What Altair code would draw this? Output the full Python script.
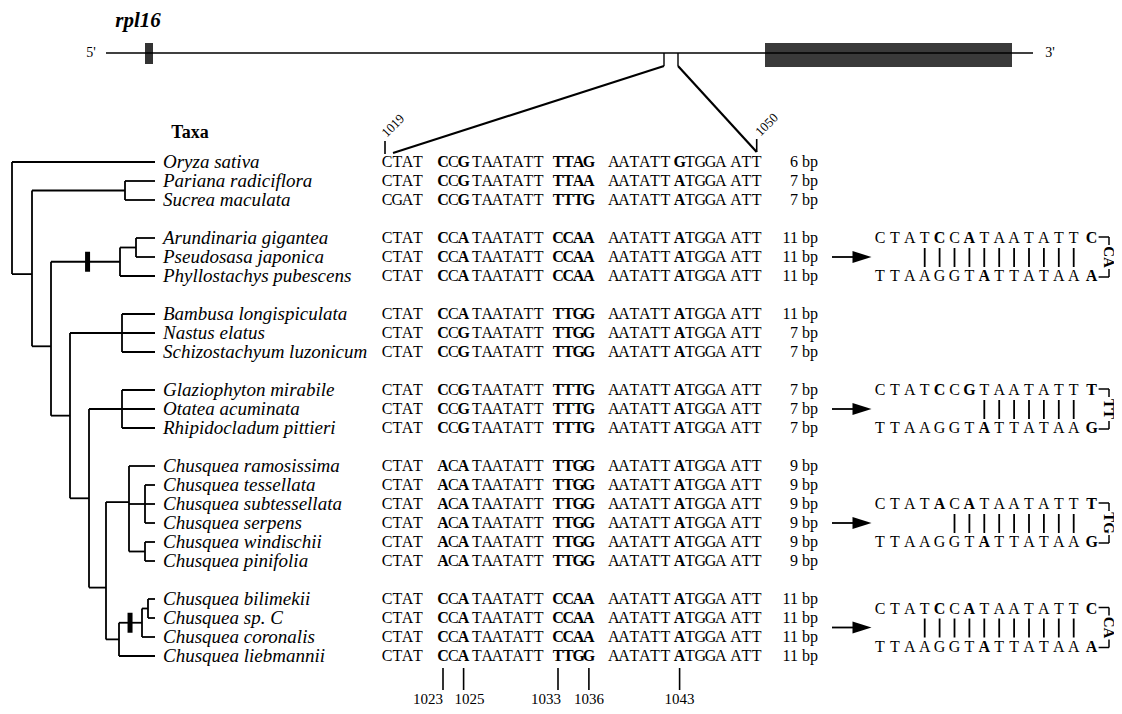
import altair as alt
import pandas as pd

# ---------------- data ----------------
taxa = ["Oryza sativa", "Pariana radiciflora", "Sucrea maculata",
        "Arundinaria gigantea", "Pseudosasa japonica", "Phyllostachys pubescens",
        "Bambusa longispiculata", "Nastus elatus", "Schizostachyum luzonicum",
        "Glaziophyton mirabile", "Otatea acuminata", "Rhipidocladum pittieri",
        "Chusquea ramosissima", "Chusquea tessellata", "Chusquea subtessellata",
        "Chusquea serpens", "Chusquea windischii", "Chusquea pinifolia",
        "Chusquea bilimekii", "Chusquea sp. C", "Chusquea coronalis", "Chusquea liebmannii"]
group_sizes = [3, 3, 3, 3, 6, 4]
sequences = [
    "CTATCCGTAATATTTTAGAATATTGTGGAATT",
    "CTATCCGTAATATTTTAAAATATTATGGAATT",
    "CGATCCGTAATATTTTTGAATATTATGGAATT",
    "CTATCCATAATATTCCAAAATATTATGGAATT",
    "CTATCCATAATATTCCAAAATATTATGGAATT",
    "CTATCCATAATATTCCAAAATATTATGGAATT",
    "CTATCCATAATATTTTGGAATATTATGGAATT",
    "CTATCCGTAATATTTTGGAATATTATGGAATT",
    "CTATCCGTAATATTTTGGAATATTATGGAATT",
    "CTATCCGTAATATTTTTGAATATTATGGAATT",
    "CTATCCGTAATATTTTTGAATATTATGGAATT",
    "CTATCCGTAATATTTTTGAATATTATGGAATT",
    "CTATACATAATATTTTGGAATATTATGGAATT",
    "CTATACATAATATTTTGGAATATTATGGAATT",
    "CTATACATAATATTTTGGAATATTATGGAATT",
    "CTATACATAATATTTTGGAATATTATGGAATT",
    "CTATACATAATATTTTGGAATATTATGGAATT",
    "CTATACATAATATTTTGGAATATTATGGAATT",
    "CTATCCATAATATTCCAAAATATTATGGAATT",
    "CTATCCATAATATTCCAAAATATTATGGAATT",
    "CTATCCATAATATTCCAAAATATTATGGAATT",
    "CTATCCATAATATTTTGGAATATTATGGAATT",
]
bp_lengths = [6, 7, 7, 11, 11, 11, 11, 7, 7, 7, 7, 7, 9, 9, 9, 9, 9, 9, 11, 11, 11, 11]
first_position = 1019
last_position = 1050
bold_positions = [1023, 1025, 1033, 1034, 1035, 1036, 1043]
marked_positions = [1023, 1025, 1033, 1036, 1043]

# tree: (node, depth, children, stem-row override)
tree = ("root", 12, [
    "Oryza sativa",
    ("B", 32, [
        ("PS", 125, ["Pariana radiciflora", "Sucrea maculata"], None),
        ("C", 51, [
            ("AR", 120, [("AP", 136, ["Arundinaria gigantea", "Pseudosasa japonica"], None),
                         "Phyllostachys pubescens"], None),
            ("D", 70, [
                ("BA", 122, ["Bambusa longispiculata", "Nastus elatus", "Schizostachyum luzonicum"], None),
                ("E", 89, [
                    ("GL", 122, ["Glaziophyton mirabile", "Otatea acuminata", "Rhipidocladum pittieri"], None),
                    ("F", 106, [
                        ("G", 129, ["Chusquea ramosissima",
                                    ("H", 145, ["Chusquea tessellata", "Chusquea subtessellata", "Chusquea serpens"], None),
                                    ("W", 145, ["Chusquea windischii", "Chusquea pinifolia"], None)], 17.9),
                        ("I", 119, [("J", 142, [("K", 148, ["Chusquea bilimekii", "Chusquea sp. C"], None),
                                               "Chusquea coronalis"], None),
                                    "Chusquea liebmannii"], None)], 22.4),
                ], None),
            ], None),
        ], 9.7),
    ], 5.9),
], None)
marked_branches = {"AR": 0.53, "J": 0.48}   # branch carrying the black bar: relative place

hairpin_top = ["CTATCCATAATATTC", "CTATCCGTAATATTT", "CTATACATAATATTT", "CTATCCATAATATTC"]
hairpin_bottom = ["TTAAGGTATTATAAA", "TTAAGGTATTATAAG", "TTAAGGTATTATAAG", "TTAAGGTATTATAAA"]
hairpin_loop = ["CA", "TT", "TG", "CA"]
hairpin_pairs = [11, 7, 9, 11]
hairpin_top_bold = [4, 6, 14]
hairpin_bottom_bold = [7, 14]
hairpin_rows = [5, 13, 19, 24.5]

# ---------------- layout ----------------
SERIF = "Liberation Serif"
ROW0, ROW_H = 162, 19
LEAF_X = 155
SEQ_X0, SEQ_PITCH = 387, 10.3
SEQ_GAPS = {4: 14.8, 7: 3.0, 14: 9.0, 18: 14.6, 24: 4.0, 29: 5.0}
HP_X0, HP_PITCH = 880, 14.9
LOOP_X = 1109


def row_y(k):
    return ROW0 + ROW_H * k


def col_x(j):
    return SEQ_X0 + SEQ_PITCH * j + sum(g for k, g in SEQ_GAPS.items() if j >= k)


taxon_row = {}
k = 0
i = 0
for g in group_sizes:
    for _ in range(g):
        taxon_row[taxa[i]] = k
        i += 1
        k += 1
    k += 1

rules, rects, texts_n, texts_b, texts_i, texts_bi, texts_r, texts_l = [], [], [], [], [], [], [], []


def rule(x, y, x2, y2, w=1.6):
    rules.append(dict(x=x, y=y, x2=x2, y2=y2, w=w))


def txt(lst, x, y, t, fs, ang=0):
    lst.append(dict(x=x, y=y, t=t, fs=fs, ang=ang))


# ---- tree ----
node_pos = {}
node_parent_x = {}


def layout(node, parent_depth=None):
    if isinstance(node, str):
        return LEAF_X, row_y(taxon_row[node])
    name, depth, children, override = node
    cpos = [layout(c, depth) for c in children]
    ys = [p[1] for p in cpos]
    rule(depth, min(ys), depth, max(ys), 1.8)
    for (cx, cy) in cpos:
        rule(depth, cy, cx, cy, 1.8)
    y = row_y(override) if override is not None else (ys[0] + ys[-1]) / 2
    node_pos[name] = (depth, y)
    node_parent_x[name] = parent_depth
    return depth, y


layout(tree)
for nm, frac in marked_branches.items():
    nx, ny = node_pos[nm]
    px = node_parent_x[nm]
    bx = px + (nx - px) * frac
    rects.append(dict(x=bx - 2.5, x2=bx + 2.5, y=ny - 10, y2=ny + 10, c="black"))

# ---- taxa, sequences, bp ----
for t, s, bp in zip(taxa, sequences, bp_lengths):
    y = row_y(taxon_row[t])
    txt(texts_i, 163, y, t, 19)
    for j, ch in enumerate(s):
        pos = first_position + j
        txt(texts_b if pos in bold_positions else texts_n, col_x(j), y, ch, 16)
    txt(texts_r, 818, y, f"{bp} bp", 16)

txt(texts_b, 190, 133, "Taxa", 18)

# ---- gene diagram ----
txt(texts_bi, 138, 21, "rpl16", 21)
txt(texts_n, 91, 53, "5'", 14)
txt(texts_n, 1050, 53, "3'", 14)
rule(106, 53, 1033, 53, 1.6)
rects.append(dict(x=145, x2=153, y=43, y2=64, c="#333333"))
rects.append(dict(x=765, x2=1012, y=43, y2=67, c="#3a3a3a"))
rule(664, 53, 664, 66, 1.4)
rule(678, 53, 678, 66, 1.4)
x_first = col_x(0)
x_last = col_x(last_position - first_position)
rule(664, 66, x_first + 6, 153, 2.2)
rule(678, 66, x_last, 152, 2.2)
rule(x_first - 2, 141, x_first - 2, 154, 1.6)
rule(x_last, 139, x_last, 152, 1.6)
txt(texts_l, x_first - 3, 135, str(first_position), 13, 315)
txt(texts_l, x_last + 1, 134, str(last_position), 13, 315)

# ---- bottom position markers ----
label_dx = {1023: -15, 1025: 6, 1033: -12}
for p in marked_positions:
    x = col_x(p - first_position)
    rule(x, 668, x, 690, 1.6)
    txt(texts_n, x + label_dx.get(p, 0), 699, str(p), 15)

# ---- hairpins ----
arrows = []
for top, bot, loop, npair, hr in zip(hairpin_top, hairpin_bottom, hairpin_loop, hairpin_pairs, hairpin_rows):
    cy = row_y(hr)
    ty, by = cy - ROW_H, cy + ROW_H
    n = len(top)

    def hx(j):
        return HP_X0 + HP_PITCH * j + (3 if j == n - 1 else 0)

    for j, ch in enumerate(top):
        txt(texts_b if j in hairpin_top_bold else texts_n, hx(j), ty, ch, 16)
    for j, ch in enumerate(bot):
        txt(texts_b if j in hairpin_bottom_bold else texts_n, hx(j), by, ch, 16)
    for j in range(n - 1 - npair, n - 1):
        rule(hx(j), ty + 10, hx(j), by - 9, 1.8)
    rule(hx(n - 1) + 7, ty - 1, LOOP_X, ty - 1, 1.5)
    rule(LOOP_X, ty - 1, LOOP_X, cy - 12, 1.5)
    rule(LOOP_X, cy + 12, LOOP_X, by + 1, 1.5)
    rule(hx(n - 1) + 7, by + 1, LOOP_X, by + 1, 1.5)
    txt(texts_b, LOOP_X, cy, loop, 15, 90)
    rule(832, cy, 856, cy, 1.8)
    arrows.append(dict(x=862, y=cy))

# ---------------- chart ----------------
XS = alt.Scale(domain=[8, 1114], nice=False, zero=False)
YS = alt.Scale(domain=[8, 706], reverse=True, nice=False, zero=False)


def X(f="x"):
    return alt.X(f"{f}:Q", scale=XS, axis=None)


def Y(f="y"):
    return alt.Y(f"{f}:Q", scale=YS, axis=None)


rule_layer = alt.Chart(pd.DataFrame(rules)).mark_rule(color="black", strokeCap="butt").encode(
    x=X(), y=Y(), x2="x2:Q", y2="y2:Q", strokeWidth=alt.StrokeWidth("w:Q", scale=None))

rect_layer = alt.Chart(pd.DataFrame(rects)).mark_rect().encode(
    x=X(), y=Y(), x2="x2:Q", y2="y2:Q", color=alt.Color("c:N", scale=None))

arrow_layer = alt.Chart(pd.DataFrame(arrows)).mark_point(
    shape="M-1,-0.62L1,0L-1,0.62Z", filled=True, color="black", opacity=1, size=361
).encode(x=X(), y=Y())


def text_layer(rows, align="center", weight="normal", style="normal"):
    return alt.Chart(pd.DataFrame(rows)).mark_text(
        align=align, baseline="middle", font=SERIF, fontWeight=weight, fontStyle=style, color="black"
    ).encode(
        x=X(), y=Y(), text="t:N",
        size=alt.Size("fs:Q", scale=None, legend=None),
        angle=alt.Angle("ang:Q", scale=None),
    )


chart = alt.layer(
    rect_layer,
    rule_layer,
    arrow_layer,
    text_layer(texts_n),
    text_layer(texts_b, weight="bold"),
    text_layer(texts_i, align="left", style="italic"),
    text_layer(texts_bi, weight="bold", style="italic"),
    text_layer(texts_r, align="right"),
    text_layer(texts_l, align="left"),
).properties(
    width=1106, height=698, padding=0, autosize="none", background="white"
).configure_view(stroke=None)

chart.save("out.html", embed_options={"renderer": "svg", "actions": False})
